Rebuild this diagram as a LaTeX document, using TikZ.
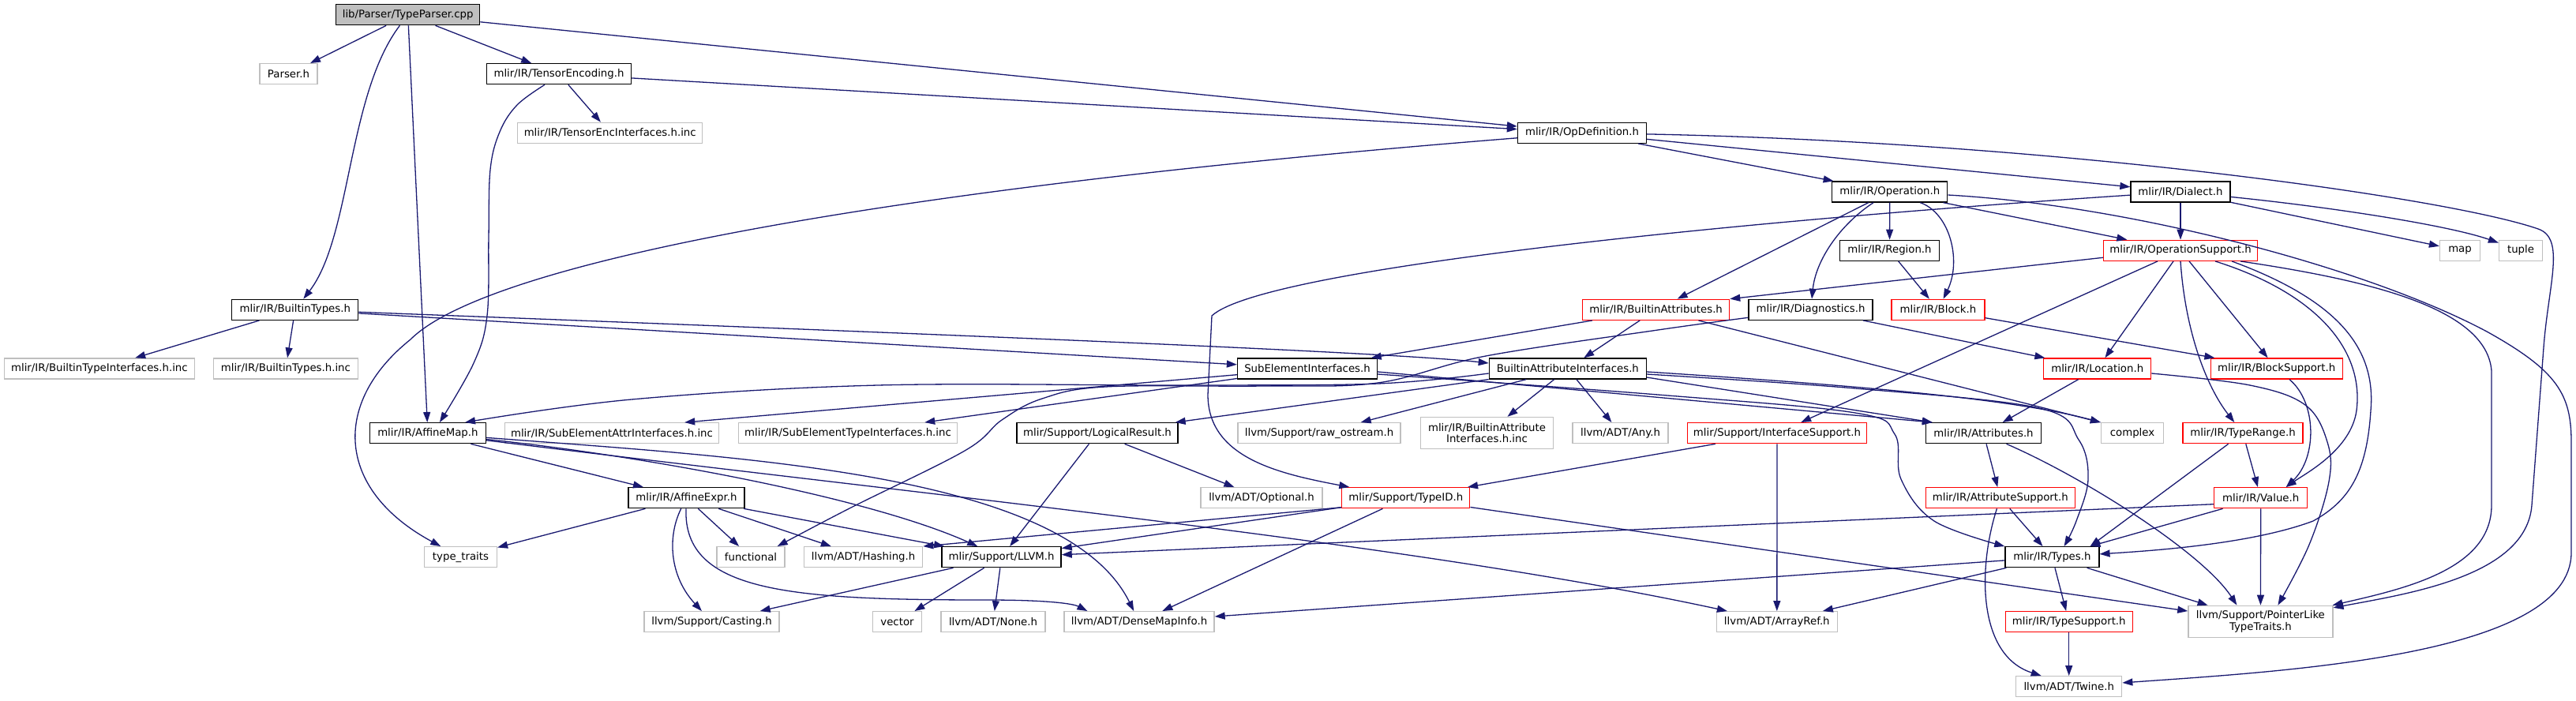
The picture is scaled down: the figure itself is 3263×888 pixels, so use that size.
\documentclass[tikz,border=0pt]{standalone}
\usepackage{fontspec}
\setmainfont{DejaVu Sans}
\usetikzlibrary{arrows.meta}
\definecolor{edgeblue}{HTML}{191970}
\definecolor{grey75}{HTML}{BFBFBF}

\begin{document}
\begin{tikzpicture}[x=1pt,y=-1pt,
    file/.style={draw,line width=1.3pt,fill=white,minimum height=26pt,inner sep=1pt,
      font=\fontsize{13.3}{14.5}\selectfont},
    doc/.style={file},
    ext/.style={file,draw=grey75},
    trunc/.style={file,draw=red},
    root/.style={file,fill=grey75},
    inc/.style={draw=edgeblue,line width=1.3pt,-{Triangle[length=13pt,width=9pt]}}]
  \useasboundingbox (0,0) rectangle (3263,888);

  % files, row by row
  \node[root,minimum width=182] (tp) at (516.7,18.7) {lib/Parser/TypeParser.cpp};
  \node[ext,minimum width=73] (parser) at (365.5,93.7) {Parser.h};
  \node[doc,minimum width=183] (tenc) at (708,93.7) {mlir/IR/TensorEncoding.h};
  \node[ext,minimum width=234] (tencinc) at (772.7,168.3) {mlir/IR/TensorEncInterfaces.h.inc};
  \node[doc,minimum width=163] (opdef) at (2004,168.3) {mlir/IR/OpDefinition.h};
  \node[doc,minimum width=146] (oper) at (2393.8,243) {mlir/IR/Operation.h};
  \node[doc,minimum width=126] (dialect) at (2762,243) {mlir/IR/Dialect.h};
  \node[doc,minimum width=126] (region) at (2393.5,317.3) {mlir/IR/Region.h};
  \node[trunc,minimum width=195] (opsup) at (2762,317.3) {mlir/IR/OperationSupport.h};
  \node[ext,minimum width=51] (map) at (3116,317.3) {map};
  \node[ext,minimum width=55] (tuple) at (3193,317.3) {tuple};
  \node[doc,minimum width=160] (btypes) at (373.8,392.3) {mlir/IR/BuiltinTypes.h};
  \node[trunc,minimum width=186] (battr) at (2097.6,392.3) {mlir/IR/BuiltinAttributes.h};
  \node[doc,minimum width=157] (diag) at (2293.6,392.3) {mlir/IR/Diagnostics.h};
  \node[trunc,minimum width=118] (block) at (2455,392.3) {mlir/IR/Block.h};
  \node[ext,minimum width=241] (btinc) at (125.9,467) {mlir/IR/BuiltinTypeInterfaces.h.inc};
  \node[ext,minimum width=183] (btypesinc) at (361.9,467) {mlir/IR/BuiltinTypes.h.inc};
  \node[doc,minimum width=177] (subel) at (1656,467) {SubElementInterfaces.h};
  \node[doc,minimum width=199] (bai) at (1985.8,467) {BuiltinAttributeInterfaces.h};
  \node[trunc,minimum width=136] (loc) at (2656.7,467) {mlir/IR/Location.h};
  \node[trunc,minimum width=167] (blocksup) at (2883.7,467) {mlir/IR/BlockSupport.h};
  \node[doc,minimum width=147] (amap) at (541.9,548.7) {mlir/IR/AffineMap.h};
  \node[ext,minimum width=271] (seainc) at (775,548.7) {mlir/IR/SubElementAttrInterfaces.h.inc};
  \node[ext,minimum width=277] (setinc) at (1074,548.7) {mlir/IR/SubElementTypeInterfaces.h.inc};
  \node[doc,minimum width=204] (logres) at (1390,548.7) {mlir/Support/LogicalResult.h};
  \node[ext,minimum width=206] (rawos) at (1671,548.7) {llvm/Support/raw\_ostream.h};
  \node[ext,minimum width=168,minimum height=40,align=center] (baiinc) at (1883.5,548.5) {mlir/IR/BuiltinAttribute\\Interfaces.h.inc};
  \node[ext,minimum width=121] (any) at (2052.6,548.7) {llvm/ADT/Any.h};
  \node[trunc,minimum width=227] (ifsup) at (2251,548.7) {mlir/Support/InterfaceSupport.h};
  \node[doc,minimum width=146] (attrs) at (2512.5,548.7) {mlir/IR/Attributes.h};
  \node[ext,minimum width=79] (complex) at (2701,548.7) {complex};
  \node[trunc,minimum width=152] (trange) at (2841,548.7) {mlir/IR/TypeRange.h};
  \node[doc,minimum width=147] (aexpr) at (869.5,630.7) {mlir/IR/AffineExpr.h};
  \node[ext,minimum width=154] (optional) at (1598,630.7) {llvm/ADT/Optional.h};
  \node[trunc,minimum width=162] (typeid) at (1780.8,630.7) {mlir/Support/TypeID.h};
  \node[trunc,minimum width=189] (attrsup) at (2533.8,630.7) {mlir/IR/AttributeSupport.h};
  \node[trunc,minimum width=118] (value) at (2863.7,630.7) {mlir/IR/Value.h};
  \node[ext,minimum width=92] (ttraits) at (583.5,705.7) {type\_traits};
  \node[ext,minimum width=86] (functional) at (951,705.7) {functional};
  \node[ext,minimum width=150] (hashing) at (1093.6,705.7) {llvm/ADT/Hashing.h};
  \node[doc,minimum width=151] (llvmh) at (1268.6,705.7) {mlir/Support/LLVM.h};
  \node[doc,minimum width=119] (types) at (2599.4,705.7) {mlir/IR/Types.h};
  \node[ext,minimum width=171] (casting) at (901.6,787.7) {llvm/Support/Casting.h};
  \node[ext,minimum width=62] (vector) at (1136.5,787.7) {vector};
  \node[ext,minimum width=132] (none) at (1258,787.7) {llvm/ADT/None.h};
  \node[ext,minimum width=190] (dmi) at (1443,787.7) {llvm/ADT/DenseMapInfo.h};
  \node[ext,minimum width=153] (aref) at (2250.8,787.7) {llvm/ADT/ArrayRef.h};
  \node[trunc,minimum width=161] (tsup) at (2620.7,787.7) {mlir/IR/TypeSupport.h};
  \node[ext,minimum width=183,minimum height=40,align=center] (plt) at (2863.4,787.3) {llvm/Support/PointerLike\\TypeTraits.h};
  \node[ext,minimum width=134] (twine) at (2620.7,869.7) {llvm/ADT/Twine.h};

  % includes
  \draw[inc] (tp) -- (parser);
  \draw[inc] (tp) -- (tenc);
  \draw[inc] (tp) .. controls (440,120) and (445,300) .. (btypes);
  \draw[inc] (tp) -- (amap);
  \draw[inc] (tp) -- (opdef);
  \draw[inc] (tenc) -- (tencinc);
  \draw[inc] (tenc) -- (opdef);
  \draw[inc] plot[smooth,tension=.6] coordinates {([xshift=-18pt]tenc.south) (655,133) (633,167) (621,215) (619,300) (617,400) (600,460) ([xshift=15pt]amap.north)};

  \draw[inc] (btypes) -- (btinc);
  \draw[inc] (btypes) -- (btypesinc);
  \draw[inc] (btypes) -- (subel);
  \draw[inc] ([yshift=-3pt]btypes.east) .. controls (1100,420) and (1750,445) .. ([yshift=7pt]bai.west);

  \draw[inc] (opdef) -- (oper);
  \draw[inc] (opdef) -- (dialect);
  \draw[inc] (opdef) .. controls (1100,240) and (615,335) .. (520,430)
    .. controls (420,510) and (425,620) .. (ttraits);
  \draw[inc] (opdef) .. controls (2600,180) and (3100,250) .. (3215,290)
    .. controls (3250,302) and (3228,360) .. (3222,440) -- (3207,640)
    .. controls (3200,730) and (3050,752) .. (plt);

  \draw[inc] (oper) -- (region);
  \draw[inc] (oper) -- (battr);
  \draw[inc] (oper) .. controls (2330,285) and (2300,330) .. (diag);
  \draw[inc] (oper) .. controls (2470,270) and (2485,330) .. (block);
  \draw[inc] (oper) -- (opsup);
  \draw[inc] ([yshift=-4pt]oper.east) .. controls (2700,260) and (3000,340) .. (3150,420)
    .. controls (3240,470) and (3257,500) .. (3257,560) -- (3257,700)
    .. controls (3257,830) and (2900,850) .. (twine);

  \draw[inc] (dialect) -- (opsup);
  \draw[inc] (dialect) -- (map);
  \draw[inc] (dialect) .. controls (2950,262) and (3100,285) .. (tuple);
  \draw[inc] (dialect) .. controls (2200,280) and (1600,340) .. (1535,400)
    -- (1530,500) .. controls (1530,580) and (1620,600) .. (typeid);
  \draw[inc] (region) -- (block);
  \draw[inc] (block) -- (blocksup);

  \draw[inc] ([yshift=-9pt]opsup.west) -- (battr.north east);
  \draw[inc] ([xshift=-29pt]opsup.south) -- (ifsup);
  \draw[inc] ([xshift=-9pt]opsup.south) -- (loc);
  \draw[inc] (opsup.south) .. controls (2768,420) and (2795,490) .. (trange);
  \draw[inc] ([xshift=11pt]opsup.south) -- (blocksup);
  \draw[inc] ([xshift=44pt]opsup.south) .. controls (2930,370) and (2995,440) .. (2985,520)
    .. controls (2978,570) and (2920,600) .. ([xshift=32pt]value.north);
  \draw[inc] ([xshift=65pt]opsup.south) .. controls (2960,380) and (3010,440) .. (3003,520)
    .. controls (2998,600) and (2975,635) .. (2930,660)
    .. controls (2850,690) and (2720,698) .. (types);
  \draw[inc] ([xshift=76pt]opsup.south) .. controls (3000,355) and (3150,390) .. (3156,470)
    -- (3156,640) .. controls (3156,720) and (3050,745) .. (plt);

  \draw[inc] (battr) -- (subel);
  \draw[inc] (battr) -- (bai);
  \draw[inc] (battr) -- (complex.north west);
  \draw[inc] (diag) -- (loc);
  \draw[inc] plot[smooth,tension=.6] coordinates {([yshift=-10pt]diag.west) (2100,418) (1882,451) (1745,485) (1600,489) (1400,490) (1320,505) (1269,532) (1222,571) (1076,644) ([xshift=-10pt]functional.north east)};

  \draw[inc] (subel) -- ([xshift=-44pt]seainc.north east);
  \draw[inc] (subel) -- (setinc);
  \draw[inc] ([yshift=-4pt]subel.east) -- ([xshift=9pt]attrs.north west);
  \draw[inc] plot[smooth,tension=.6] coordinates {([yshift=-7pt]subel.east) (2100,500) (2350,523) (2400,550) (2408,607) (2450,660) (types.north west)};

  \draw[inc] plot[smooth,tension=.6] coordinates {([yshift=-6pt]bai.west) (1745,486) (1500,488) (1112,488) (800,506) ([xshift=-27pt]amap.north east)};
  \draw[inc] (bai) -- ([xshift=-4pt]logres.north east);
  \draw[inc] (bai) -- (rawos);
  \draw[inc] (bai) -- (baiinc);
  \draw[inc] (bai) -- (any);
  \draw[inc] ([yshift=-4pt]bai.east) .. controls (2350,488) and (2550,505) .. (complex.north west);
  \draw[inc] plot[smooth,tension=.6] coordinates {([yshift=-7pt]bai.east) (2350,492) (2583,517) (2633,557) (2645,607) (2630,660) ([xshift=-45pt]types.north east)};
  \draw[inc] ([yshift=-11pt]bai.east) -- ([xshift=9pt]attrs.north west);

  \draw[inc] (loc) -- (attrs);
  \draw[inc] plot[smooth,tension=.6] coordinates {([yshift=-6pt]loc.east) (2850,488) (2920,513) (2948,560) (2950,610) (2925,690) ([xshift=22pt]plt.north)};
  \draw[inc] (blocksup) .. controls (2935,510) and (2935,580) .. ([xshift=32pt]value.north);

  \draw[inc] (attrs) -- (attrsup);
  \draw[inc] ([xshift=29pt]attrs.south) .. controls (2640,605) and (2790,700) .. ([xshift=-30pt]plt.north);
  \draw[inc] (attrsup) -- (types);
  \draw[inc] (attrsup) .. controls (2505,720) and (2505,830) .. ([xshift=-35pt]twine.north);
  \draw[inc] (trange) -- ([xshift=-12pt]types.north east);
  \draw[inc] (trange) -- (value);

  \draw[inc] (value) -- (types);
  \draw[inc] (value) -- (plt);
  \draw[inc] ([yshift=-8pt]value.west) -- ([yshift=3pt]llvmh.east);
  \draw[inc] (types) -- (tsup);
  \draw[inc] (types) -- (plt);
  \draw[inc] (types) -- (dmi);
  \draw[inc] (types) -- (aref);
  \draw[inc] (tsup) -- (twine);

  \draw[inc] (ifsup) -- (typeid);
  \draw[inc] (ifsup) -- (aref);
  \draw[inc] (typeid) -- (plt);
  \draw[inc] ([yshift=-12pt]typeid.west) -- (llvmh);
  \draw[inc] ([yshift=-12pt]typeid.west) -- (hashing.north east);
  \draw[inc] (typeid) -- (dmi);
  \draw[inc] (logres) -- (llvmh);
  \draw[inc] (logres) -- (optional);

  \draw[inc] (amap) -- (aexpr);
  \draw[inc] (amap) .. controls (820,578) and (1100,630) .. (llvmh);
  \draw[inc] (amap) .. controls (950,580) and (1350,600) .. (dmi);
  \draw[inc] (amap) .. controls (1200,630) and (1800,690) .. (aref);
  \draw[inc] (aexpr) -- (ttraits);
  \draw[inc] (aexpr) -- (functional);
  \draw[inc] (aexpr) -- (hashing);
  \draw[inc] (aexpr) -- (llvmh);
  \draw[inc] (aexpr) .. controls (845,680) and (848,730) .. (casting);
  \draw[inc] (aexpr) .. controls (865,750) and (1000,760) .. (1250,760)
    .. controls (1330,760) and (1360,765) .. ([xshift=30pt]dmi.north west);
  \draw[inc] (llvmh) -- (casting);
  \draw[inc] (llvmh) -- (vector);
  \draw[inc] (llvmh) -- (none);
\end{tikzpicture}
\end{document}
